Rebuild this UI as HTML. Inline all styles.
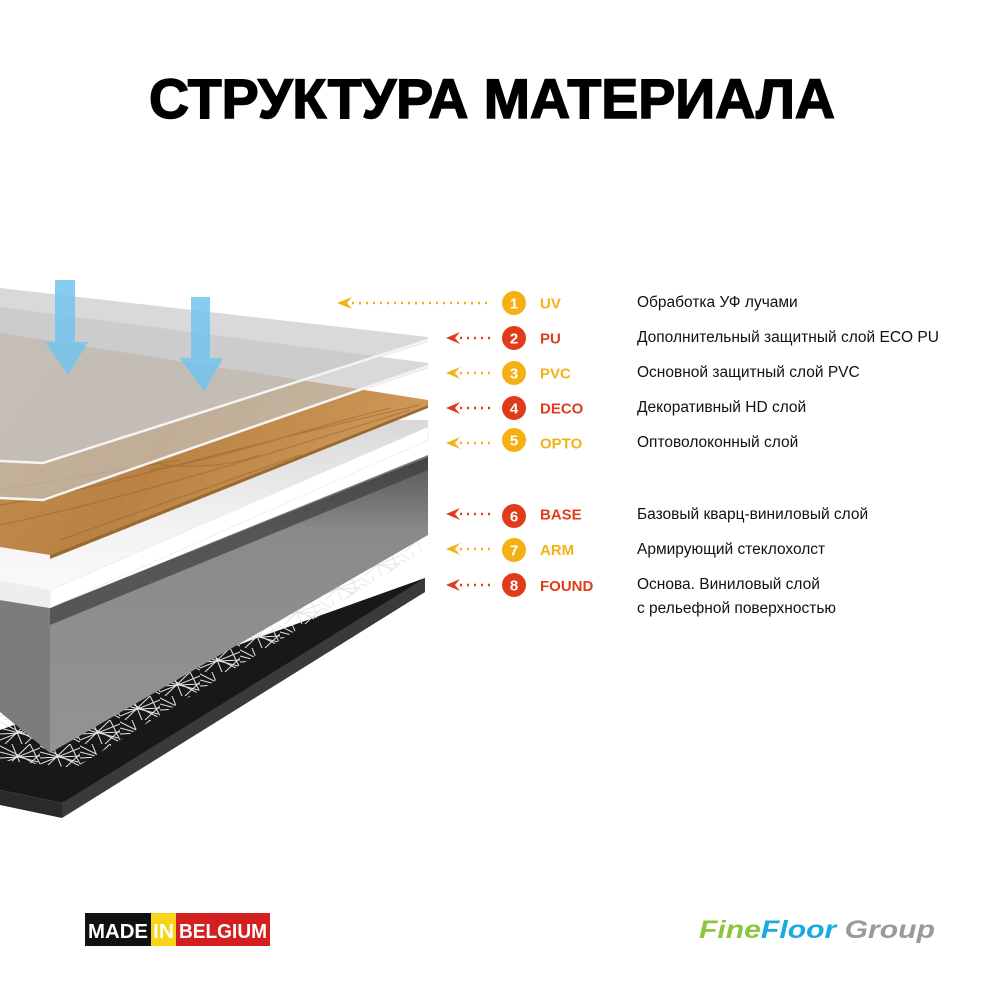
<!DOCTYPE html>
<html><head><meta charset="utf-8"><style>
html,body{margin:0;padding:0;background:#fff;}
svg{display:block}
</style></head><body>
<svg width="1000" height="1000" viewBox="0 0 1000 1000" xmlns="http://www.w3.org/2000/svg">
<defs>
<linearGradient id="wood" x1="0" y1="0" x2="1" y2="0.4">
<stop offset="0" stop-color="#c89050"/><stop offset="0.5" stop-color="#b98244"/><stop offset="1" stop-color="#cf9a58"/>
</linearGradient>
<linearGradient id="greyf" x1="0" y1="0" x2="0" y2="1">
<stop offset="0" stop-color="#555"/><stop offset="0.25" stop-color="#8a8a8a"/><stop offset="1" stop-color="#939393"/>
</linearGradient>
<linearGradient id="whitetop" x1="0" y1="0" x2="0" y2="1">
<stop offset="0" stop-color="#d8d8d8"/><stop offset="0.6" stop-color="#f2f2f2"/><stop offset="1" stop-color="#fafafa"/>
</linearGradient>
<pattern id="fib" width="40" height="24" patternUnits="userSpaceOnUse">
<g stroke="#e6e6e6" stroke-width="1" fill="none">
<line x1="0" y1="20" x2="40" y2="4"/><line x1="5" y1="24" x2="30" y2="0"/><line x1="0" y1="8" x2="38" y2="18"/>
<line x1="12" y1="0" x2="22" y2="24"/><line x1="0" y1="14" x2="40" y2="12"/><line x1="25" y1="24" x2="40" y2="10"/>
<line x1="30" y1="0" x2="40" y2="20"/><line x1="0" y1="2" x2="40" y2="22"/>
</g>
</pattern>
<clipPath id="fc"><polygon points="0,708 50,728 417,538 422,552 75,768 0,760"/></clipPath>
</defs>
<text x="492" y="118" text-anchor="middle" font-family="Liberation Sans, sans-serif" font-weight="bold" font-size="56" textLength="686" lengthAdjust="spacingAndGlyphs" fill="#000" stroke="#000" stroke-width="1.5">СТРУКТУРА МАТЕРИАЛА</text>

<!-- black base -->
<polygon points="0,730 425,578 425,592 62,803 0,790" fill="#181818"/>
<polygon points="62,803 425,578 425,592 62,818" fill="#3a3a3a"/>
<polygon points="0,790 62,803 62,818 0,805" fill="#2a2a2a"/>
<!-- fibers -->
<rect x="0" y="530" width="430" height="240" fill="url(#fib)" clip-path="url(#fc)"/>
<!-- grey base -->
<polygon points="0,600 50,608 50,753 0,712" fill="#7c7c7c"/>
<polygon points="50,608 428,457 428,535 50,753" fill="url(#greyf)"/>
<polygon points="50,608 428,455 428,470 50,625" fill="#3e3e3e" opacity="0.7"/>
<!-- white opto -->
<polygon points="0,420 428,420 428,427 50,590 0,580" fill="url(#whitetop)"/>
<polygon points="50,590 428,427 428,440 50,608" fill="#fff" stroke="#e6e6e6" stroke-width="0.6"/>
<polygon points="0,580 50,590 50,608 0,600" fill="#eeeeee"/>
<!-- wood -->
<polygon points="0,333 428,400 428,405 50,555 0,547" fill="url(#wood)"/>
<g stroke="#8f5e26" stroke-width="1.2" opacity="0.45" fill="none">
<path d="M0,505 C100,490 200,455 420,405 M0,525 C120,500 250,460 410,410 M150,470 C220,460 300,430 390,408 M0,490 L180,460 M60,540 L300,455 M160,465 Q220,470 260,455"/>
</g>
<polygon points="50,555 428,405 428,408 50,559" fill="#9a6a30"/>
<!-- glass PVC -->
<polygon points="0,307 428,363 428,368 43,500 0,497" fill="#c4c4c4" opacity="0.65"/>
<polyline points="428,366 43,500 0,498" fill="none" stroke="#f4f4f4" stroke-width="2.5"/>
<!-- glass top -->
<polygon points="0,288 428,337 428,342 43,463 0,460" fill="#c4c4c4" opacity="0.65"/>
<polyline points="428,340 43,463 0,461" fill="none" stroke="#f4f4f4" stroke-width="2.5"/>
<!-- blue arrows -->
<g fill="#72c4ef" opacity="0.85">
<polygon points="55,280 75,280 75,342 88,342 68,375 45,342 55,342"/>
<polygon points="191,297 210,297 210,358 223,358 204,392 180,358 191,358"/>
</g>

<g font-family="Liberation Sans, sans-serif" font-weight="bold" font-size="15">
<g fill="#f5b014"><line x1="352" y1="303" x2="490" y2="303" stroke="#f5b014" stroke-width="2.5" stroke-dasharray="2,5"/><polygon points="337,303 352,297 347,303 352,309"/></g>
<g fill="#e03c1c"><line x1="460" y1="338" x2="490" y2="338" stroke="#e03c1c" stroke-width="2.5" stroke-dasharray="2,5"/><polygon points="446,338 460,332 455,338 460,344"/></g>
<g fill="#f5b014"><line x1="460" y1="373" x2="490" y2="373" stroke="#f5b014" stroke-width="2.5" stroke-dasharray="2,5"/><polygon points="446,373 460,367 455,373 460,379"/></g>
<g fill="#e03c1c"><line x1="460" y1="408" x2="490" y2="408" stroke="#e03c1c" stroke-width="2.5" stroke-dasharray="2,5"/><polygon points="446,408 460,402 455,408 460,414"/></g>
<g fill="#f5b014"><line x1="460" y1="443" x2="490" y2="443" stroke="#f5b014" stroke-width="2.5" stroke-dasharray="2,5"/><polygon points="446,443 460,437 455,443 460,449"/></g>
<g fill="#e03c1c"><line x1="460" y1="514" x2="490" y2="514" stroke="#e03c1c" stroke-width="2.5" stroke-dasharray="2,5"/><polygon points="446,514 460,508 455,514 460,520"/></g>
<g fill="#f5b014"><line x1="460" y1="549" x2="490" y2="549" stroke="#f5b014" stroke-width="2.5" stroke-dasharray="2,5"/><polygon points="446,549 460,543 455,549 460,555"/></g>
<g fill="#e03c1c"><line x1="460" y1="585" x2="490" y2="585" stroke="#e03c1c" stroke-width="2.5" stroke-dasharray="2,5"/><polygon points="446,585 460,579 455,585 460,591"/></g>

<circle cx="514" cy="303" r="12" fill="#f5b014"/><text x="514" y="308.5" text-anchor="middle" fill="#fff">1</text><text x="540" y="308.5" fill="#f5b014">UV</text>
<circle cx="514" cy="338" r="12" fill="#e03c1c"/><text x="514" y="343.5" text-anchor="middle" fill="#fff">2</text><text x="540" y="343.5" fill="#e03c1c">PU</text>
<circle cx="514" cy="373" r="12" fill="#f5b014"/><text x="514" y="378.5" text-anchor="middle" fill="#fff">3</text><text x="540" y="378.5" fill="#f5b014">PVC</text>
<circle cx="514" cy="408" r="12" fill="#e03c1c"/><text x="514" y="413.5" text-anchor="middle" fill="#fff">4</text><text x="540" y="413.5" fill="#e03c1c">DECO</text>
<circle cx="514" cy="440" r="12" fill="#f5b014"/><text x="514" y="445.5" text-anchor="middle" fill="#fff">5</text><text x="540" y="448.5" fill="#f5b014">OPTO</text>
<circle cx="514" cy="516" r="12" fill="#e03c1c"/><text x="514" y="521.5" text-anchor="middle" fill="#fff">6</text><text x="540" y="519.5" fill="#e03c1c">BASE</text>
<circle cx="514" cy="550" r="12" fill="#f5b014"/><text x="514" y="555.5" text-anchor="middle" fill="#fff">7</text><text x="540" y="555" fill="#f5b014">ARM</text>
<circle cx="514" cy="585" r="12" fill="#e03c1c"/><text x="514" y="590.5" text-anchor="middle" fill="#fff">8</text><text x="540" y="591" fill="#e03c1c">FOUND</text>
</g>
<g font-family="Liberation Sans, sans-serif" font-size="15.5" fill="#111">
<text x="637" y="307">Обработка УФ лучами</text>
<text x="637" y="342">Дополнительный защитный слой ECO PU</text>
<text x="637" y="377">Основной защитный слой PVC</text>
<text x="637" y="412">Декоративный HD слой</text>
<text x="637" y="447">Оптоволоконный слой</text>
<text x="637" y="519">Базовый кварц-виниловый слой</text>
<text x="637" y="554">Армирующий стеклохолст</text>
<text x="637" y="589">Основа. Виниловый слой</text>
<text x="637" y="613">с рельефной поверхностью</text>
</g>

<rect x="85" y="913" width="66" height="33" fill="#111"/>
<rect x="151" y="913" width="25" height="33" fill="#f7d417"/>
<rect x="176" y="913" width="94" height="33" fill="#d31f1f"/>
<g font-family="Liberation Sans, sans-serif" font-weight="bold" font-size="20" fill="#fff">
<text x="88" y="938" textLength="60" lengthAdjust="spacingAndGlyphs">MADE</text>
<text x="153" y="938" textLength="21" lengthAdjust="spacingAndGlyphs">IN</text>
<text x="179" y="938" textLength="88" lengthAdjust="spacingAndGlyphs">BELGIUM</text>
</g>
<g font-family="Liberation Sans, sans-serif" font-weight="bold" font-style="italic" font-size="25">
<text x="699" y="938" textLength="236" lengthAdjust="spacingAndGlyphs"><tspan fill="#8cc63f">Fine</tspan><tspan fill="#1ba9e1">Floor</tspan><tspan fill="#9a9a9a"> Group</tspan></text>
</g>
</svg>
</body></html>
